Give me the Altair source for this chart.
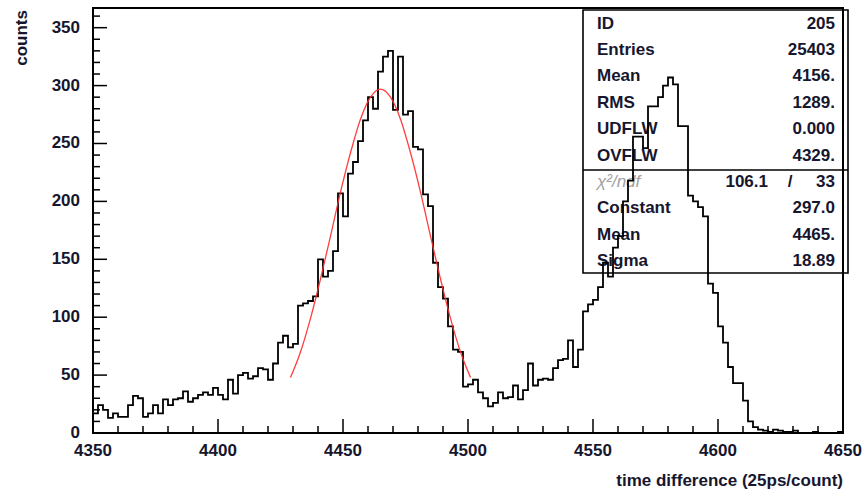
import altair as alt
import pandas as pd

# ---------------- data ----------------
# histogram contents, 150 bins of width 2 starting at 4350
counts = [17, 24, 20, 13, 17, 14, 14, 24, 32, 30,
          14, 17, 24, 17, 29, 24, 29, 30, 36, 27,
          30, 33, 35, 33, 39, 33, 29, 46, 34, 50,
          52, 47, 49, 56, 55, 46, 60, 78, 84, 74,
          77, 110, 112, 114, 118, 150, 135, 140, 157, 207,
          187, 224, 234, 252, 270, 290, 280, 312, 325, 330,
          279, 325, 275, 278, 247, 245, 206, 196, 147, 126,
          116, 92, 72, 70, 40, 42, 46, 35, 30, 23,
          26, 35, 30, 31, 41, 29, 37, 60, 41, 46,
          47, 46, 56, 63, 64, 80, 57, 72, 105, 111,
          115, 126, 147, 135, 160, 170, 200, 218, 256, 256,
          246, 282, 282, 290, 300, 307, 301, 265, 265, 205,
          200, 195, 187, 129, 121, 92, 78, 57, 43, 43,
          28, 10, 5, 3, 2, 1, 3, 2, 1, 1,
          2, 0, 0, 0, 1, 0, 0, 0, 0, 1]
BIN_START = 4350
BIN_WIDTH = 2

# gaussian fit curve as drawn
fit_x = [4429, 4433, 4437, 4441, 4445, 4449, 4453, 4457, 4461, 4465,
         4469, 4473, 4477, 4481, 4485, 4489, 4493, 4497, 4501]
fit_y = [48, 70, 99, 133, 170, 208, 242, 271, 290, 297,
         290, 271, 242, 208, 170, 133, 99, 70, 48]

x_major = [4350, 4400, 4450, 4500, 4550, 4600, 4650]
y_major = [0, 50, 100, 150, 200, 250, 300, 350]
x_minor = [v for v in range(4360, 4650, 10) if v not in x_major]
y_minor = [v for v in range(10, 367, 10) if v not in y_major]

x_title = "time difference (25ps/count)"
y_title = "counts"

stat_labels = ["ID", "Entries", "Mean", "RMS", "UDFLW", "OVFLW",
               "\u03c7\u00b2/ndf", "Constant", "Mean", "Sigma"]
stat_values = ["205", "25403", "4156.", "1289.", "0.000", "4329.",
               "33", "297.0", "4465.", "18.89"]
chi2_value = "106.1"

# ---------------- layout ----------------
W, H = 750, 425
LEFT, TOP = 93, 8
FONT = "Liberation Sans"
FS = 17
TXT = "#16162e"

xs = alt.Scale(domain=[4350, 4650], nice=False, zero=False)
ys = alt.Scale(domain=[0, 367], nice=False, zero=True)

hist_df = pd.DataFrame({
    "x": [BIN_START + BIN_WIDTH * i for i in range(len(counts))] + [BIN_START + BIN_WIDTH * len(counts)],
    "y": counts + [counts[-1]],
})

hist = alt.Chart(hist_df).mark_line(
    interpolate="step-after", color="black", strokeWidth=1.8
).encode(
    x=alt.X("x:Q", scale=xs, axis=None),
    y=alt.Y("y:Q", scale=ys, axis=None),
)

fit_df = pd.DataFrame({"fx": fit_x, "fy": fit_y})
fit = alt.Chart(fit_df).mark_line(
    color="#ff2a2a", strokeWidth=1.3, interpolate="monotone", opacity=0.9
).encode(
    x=alt.X("fx:Q", scale=xs, axis=None),
    y=alt.Y("fy:Q", scale=ys, axis=None),
)

def xticks(vals, length):
    return alt.Chart(pd.DataFrame({"t": vals})).mark_rule(
        color="black", strokeWidth=1.5
    ).encode(
        x=alt.X("t:Q", scale=xs, axis=None),
        y=alt.value(H), y2=alt.value(H - length),
    )

def yticks(vals, length):
    return alt.Chart(pd.DataFrame({"t": vals})).mark_rule(
        color="black", strokeWidth=1.5
    ).encode(
        y=alt.Y("t:Q", scale=ys, axis=None),
        x=alt.value(0), x2=alt.value(length),
    )

tick_layers = [xticks(x_major, 14), xticks(x_minor, 7),
               yticks(y_major, 14), yticks(y_minor, 7)]

# tick labels and axis titles
xlab = alt.Chart(pd.DataFrame({"t": x_major})).mark_text(
    align="center", baseline="middle", font=FONT, fontSize=FS,
    fontWeight="bold", color=TXT
).encode(
    x=alt.X("t:Q", scale=xs, axis=None),
    y=alt.value(H + 18),
    text=alt.Text("t:Q", format="d"),
)
ylab = alt.Chart(pd.DataFrame({"t": y_major})).mark_text(
    align="right", baseline="middle", font=FONT, fontSize=FS,
    fontWeight="bold", color=TXT
).encode(
    y=alt.Y("t:Q", scale=ys, axis=None),
    x=alt.value(-13),
    text=alt.Text("t:Q", format="d"),
)
one = pd.DataFrame({"a": [0]})
xtitle = alt.Chart(one).mark_text(
    align="right", baseline="middle", font=FONT, fontSize=FS,
    fontWeight="bold", color=TXT
).encode(x=alt.value(W), y=alt.value(H + 48), text=alt.value(x_title))
ytitle = alt.Chart(one).mark_text(
    align="right", baseline="middle", font=FONT, fontSize=FS,
    fontWeight="bold", color=TXT, angle=270
).encode(x=alt.value(-71), y=alt.value(2), text=alt.value(y_title))

# stats box
BOX_L, BOX_R, BOX_T, BOX_B, BOX_MID = 490, 755, 2, 265, 162
box = alt.Chart(one).mark_rect(fill=None, stroke="black", strokeWidth=1.6).encode(
    x=alt.value(BOX_L), x2=alt.value(BOX_R), y=alt.value(BOX_T), y2=alt.value(BOX_B))
divider = alt.Chart(one).mark_rule(color="black", strokeWidth=1.6).encode(
    x=alt.value(BOX_L), x2=alt.value(BOX_R), y=alt.value(BOX_MID))

text_layers = []
ROW0, ROWH = 15.5, 26.4
for i, (lab, val) in enumerate(zip(stat_labels, stat_values)):
    yy = ROW0 + ROWH * i
    is_chi = i == 6
    text_layers.append(alt.Chart(one).mark_text(
        align="left", baseline="middle", font=FONT, fontSize=FS,
        fontWeight="normal" if is_chi else "bold",
        fontStyle="italic" if is_chi else "normal",
        color="#a0a0a0" if is_chi else TXT,
    ).encode(x=alt.value(504), y=alt.value(yy), text=alt.value(lab)))
    text_layers.append(alt.Chart(one).mark_text(
        align="right", baseline="middle", font=FONT, fontSize=FS,
        fontWeight="bold", color=TXT,
    ).encode(x=alt.value(742), y=alt.value(yy), text=alt.value(val)))
    if is_chi:
        text_layers.append(alt.Chart(one).mark_text(
            align="right", baseline="middle", font=FONT, fontSize=FS,
            fontWeight="bold", color=TXT,
        ).encode(x=alt.value(675), y=alt.value(yy), text=alt.value(chi2_value)))
        text_layers.append(alt.Chart(one).mark_text(
            align="center", baseline="middle", font=FONT, fontSize=FS,
            fontWeight="bold", color=TXT,
        ).encode(x=alt.value(697), y=alt.value(yy), text=alt.value("/")))

chart = alt.layer(
    *tick_layers, xlab, ylab, xtitle, ytitle, box, divider, *text_layers, hist, fit
).properties(
    width=W, height=H,
    autosize=alt.AutoSizeParams(type="none"),
    padding={"left": LEFT, "top": TOP, "right": 864 - LEFT - W, "bottom": 489 - TOP - H},
    background="white",
).configure_view(stroke="black", strokeWidth=2)

chart.save("out.html", embed_options={"renderer": "svg", "actions": False})
